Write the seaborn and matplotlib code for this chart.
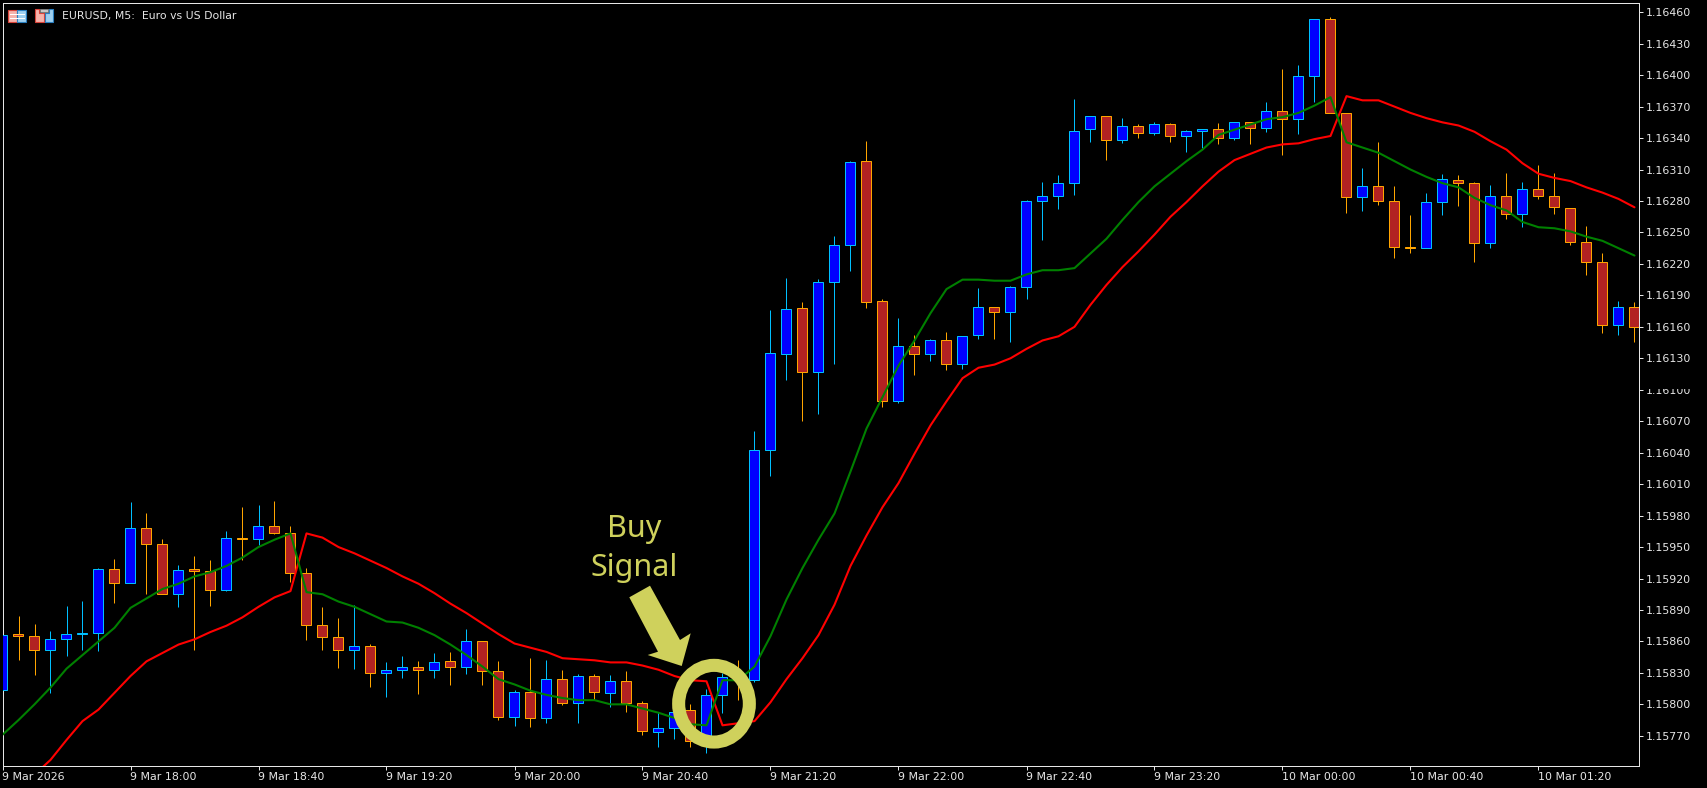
import numpy as np
import pandas as pd
import seaborn as sns
import matplotlib.pyplot as plt
from matplotlib.patches import Ellipse, Polygon, Rectangle
from matplotlib.transforms import Affine2D

# quotes are kept in points (1e-5), 5 minute bars
open_pts = [
    115814, 115867, 115865, 115852, 115862, 115867, 115868, 115929, 115916, 115968,
    115953, 115905, 115929, 115927, 115909, 115959, 115958, 115970, 115963, 115925,
    115876, 115864, 115852, 115856, 115830, 115833, 115836, 115833, 115841, 115836,
    115860, 115832, 115788, 115812, 115787, 115824, 115801, 115827, 115811, 115822,
    115801, 115774, 115777, 115795, 115767, 115809, 115826, 115823, 116043, 116134,
    116178, 116117, 116203, 116238, 116318, 116185, 116089, 116142, 116134, 116147,
    116125, 116152, 116179, 116174, 116198, 116280, 116285, 116297, 116349, 116361,
    116338, 116352, 116345, 116353, 116342, 116347, 116349, 116340, 116355, 116350,
    116366, 116358, 116399, 116454, 116364, 116284, 116294, 116280, 116236, 116235,
    116279, 116300, 116297, 116240, 116285, 116268, 116291, 116285, 116273, 116241,
    116222, 116162, 116179]
close_pts = [
    115866, 115865, 115852, 115862, 115867, 115868, 115929, 115916, 115968, 115953,
    115905, 115928, 115927, 115909, 115959, 115958, 115970, 115963, 115925, 115876,
    115864, 115852, 115856, 115830, 115833, 115836, 115833, 115840, 115836, 115860,
    115832, 115788, 115812, 115787, 115824, 115801, 115827, 115812, 115822, 115801,
    115775, 115777, 115793, 115765, 115809, 115826, 115823, 116043, 116135, 116177,
    116117, 116203, 116238, 116317, 116184, 116089, 116142, 116134, 116147, 116125,
    116151, 116179, 116174, 116198, 116280, 116285, 116297, 116347, 116361, 116338,
    116352, 116345, 116353, 116342, 116347, 116349, 116340, 116355, 116350, 116366,
    116358, 116399, 116454, 116364, 116284, 116294, 116280, 116236, 116235, 116279,
    116301, 116297, 116240, 116285, 116268, 116291, 116285, 116274, 116241, 116222,
    116162, 116179, 116160]
high_pts = [
    115866, 115884, 115877, 115870, 115894, 115899, 115930, 115939, 115993, 115982,
    115958, 115933, 115941, 115938, 115965, 115988, 115990, 115994, 115970, 115930,
    115893, 115882, 115895, 115858, 115840, 115846, 115841, 115849, 115850, 115872,
    115860, 115841, 115814, 115844, 115842, 115833, 115829, 115829, 115828, 115832,
    115803, 115793, 115793, 115800, 115815, 115830, 115842, 116061, 116176, 116207,
    116184, 116206, 116247, 116318, 116337, 116187, 116168, 116152, 116148, 116155,
    116151, 116197, 116179, 116199, 116281, 116298, 116305, 116377, 116361, 116361,
    116359, 116353, 116355, 116354, 116348, 116349, 116354, 116355, 116355, 116374,
    116406, 116410, 116454, 116455, 116364, 116311, 116336, 116294, 116267, 116288,
    116306, 116305, 116298, 116295, 116307, 116298, 116314, 116307, 116273, 116256,
    116230, 116185, 116184]
low_pts = [
    115814, 115842, 115828, 115811, 115846, 115852, 115851, 115897, 115916, 115905,
    115905, 115893, 115852, 115894, 115908, 115938, 115952, 115962, 115917, 115861,
    115852, 115835, 115834, 115817, 115807, 115825, 115810, 115825, 115818, 115829,
    115818, 115785, 115779, 115778, 115782, 115799, 115782, 115804, 115797, 115793,
    115771, 115759, 115767, 115759, 115754, 115792, 115804, 115821, 116018, 116109,
    116070, 116077, 116125, 116213, 116178, 116084, 116087, 116114, 116127, 116119,
    116120, 116148, 116148, 116146, 116187, 116243, 116272, 116286, 116336, 116319,
    116335, 116340, 116343, 116336, 116327, 116331, 116334, 116338, 116334, 116346,
    116324, 116344, 116374, 116364, 116269, 116270, 116276, 116226, 116230, 116235,
    116267, 116275, 116222, 116235, 116263, 116255, 116282, 116268, 116238, 116209,
    116154, 116152, 116146]
red_pts = [
    115701, 115717, 115733, 115747, 115766, 115784, 115795, 115811, 115827, 115841,
    115849, 115857, 115862, 115869, 115875, 115883, 115893, 115902, 115908, 115963,
    115959, 115950, 115944, 115937, 115930, 115922, 115915, 115906, 115896, 115887,
    115877, 115867, 115858, 115854, 115850, 115844, 115843, 115842, 115840, 115840,
    115837, 115833, 115827, 115823, 115822, 115780, 115782, 115784, 115802, 115824,
    115844, 115866, 115895, 115932, 115961, 115988, 116011, 116039, 116066, 116089,
    116111, 116121, 116124, 116130, 116139, 116147, 116151, 116160, 116181, 116200,
    116217, 116232, 116248, 116265, 116279, 116294, 116308, 116319, 116325, 116331,
    116334, 116335, 116339, 116342, 116380, 116376, 116376, 116370, 116364, 116359,
    116355, 116352, 116346, 116337, 116329, 116316, 116306, 116302, 116299, 116293,
    116288, 116282, 116274]
green_pts = [
    115771, 115785, 115800, 115816, 115834, 115847, 115860, 115873, 115892, 115901,
    115910, 115915, 115922, 115926, 115932, 115940, 115950, 115957, 115963, 115907,
    115905, 115898, 115893, 115886, 115879, 115878, 115873, 115866, 115857, 115847,
    115836, 115824, 115819, 115813, 115809, 115806, 115804, 115804, 115800, 115800,
    115796, 115792, 115787, 115781, 115780, 115823, 115823, 115836, 115865, 115900,
    115930, 115957, 115982, 116022, 116063, 116093, 116123, 116147, 116173, 116196,
    116205, 116205, 116204, 116204, 116210, 116214, 116214, 116216, 116230, 116244,
    116262, 116279, 116294, 116306, 116318, 116329, 116343, 116348, 116353, 116358,
    116360, 116364, 116371, 116379, 116336, 116331, 116326, 116318, 116310, 116303,
    116297, 116293, 116283, 116276, 116271, 116260, 116255, 116254, 116251, 116246,
    116242, 116235, 116228]

time_labels = ['9 Mar 2026', '9 Mar 18:00', '9 Mar 18:40', '9 Mar 19:20', '9 Mar 20:00',
               '9 Mar 20:40', '9 Mar 21:20', '9 Mar 22:00', '9 Mar 22:40', '9 Mar 23:20',
               '10 Mar 00:00', '10 Mar 00:40', '10 Mar 01:20']
price_ticks = [1.15770 + 0.0003 * k for k in range(24)]

W, H = 1708, 788
FG = '#e6e6e6'
ACCENT = '#cfd15c'

sns.set_style('dark', {'axes.facecolor': 'black', 'figure.facecolor': 'black'})
plt.rcParams['font.family'] = ['DejaVu Sans']

df = pd.DataFrame({'bar': np.arange(len(open_pts)),
                   'open': np.array(open_pts) / 1e5, 'close': np.array(close_pts) / 1e5,
                   'high': np.array(high_pts) / 1e5, 'low': np.array(low_pts) / 1e5,
                   'red': np.array(red_pts) / 1e5, 'green': np.array(green_pts) / 1e5})
up = df[df['close'] >= df['open']]
down = df[df['close'] < df['open']]

fig = plt.figure(figsize=(W / 100, H / 100), dpi=100)
ax = fig.add_axes([2.5 / W, 1 - 766 / H, 1637 / W, 763.5 / H])

# top left pixel coordinates, for the overlays that are not data
px = Affine2D().scale(1 / W, -1 / H).translate(0, 1) + fig.transFigure

# candles
for part, fill, edge in [(up, '#0000ff', '#00bfff'), (down, '#b22222', '#ffa500')]:
    ax.vlines(part['bar'], part['low'], part['high'], color=edge, lw=0.72, zorder=2)
    ax.bar(part['bar'], (part['close'] - part['open']).abs(),
           bottom=part[['open', 'close']].min(axis=1), width=0.625,
           color=fill, edgecolor=edge, linewidth=0.72, zorder=3)

# moving averages
sns.lineplot(data=df, x='bar', y='red', color='#ff0000', lw=1.5, ax=ax, zorder=4, legend=False)
sns.lineplot(data=df, x='bar', y='green', color='#008000', lw=1.5, ax=ax, zorder=5, legend=False)

ax.set_xlim(0, 102.3125)
ax.set_ylim(1.157412, 1.164693)
ax.set_xlabel('')
ax.set_ylabel('')
ax.grid(False)

ax.yaxis.tick_right()
ax.set_yticks(price_ticks)
ax.set_yticklabels([f'{p:.5f}' for p in price_ticks])
ax.set_xticks(np.arange(0, 97, 8))
ax.set_xticklabels(time_labels, ha='left')
ax.tick_params(axis='both', colors=FG, labelsize=7.9, length=3, width=0.72, pad=1.5,
               bottom=True, right=True, left=False)
for s in ax.spines.values():
    s.set_color(FG)
    s.set_linewidth(0.72)
    s.set_visible(True)

# the 1.16100 label is half hidden in the screenshot
fig.add_artist(Rectangle((1644.6, 378), 60, 11.2, transform=px, color='black', lw=0, zorder=10))

# title and the two toolbar icons
fig.text(62, 16.5, 'EURUSD, M5:  Euro vs US Dollar', transform=px, color=FG,
         fontsize=7.8, va='center', ha='left')
fig.add_artist(Rectangle((8.5, 9.5), 9, 12.5, transform=px, fc='#f6b3ab', ec='#d9443a', lw=0.8))
fig.add_artist(Rectangle((17.5, 9.5), 9, 12.5, transform=px, fc='#9fd0f0', ec='#2a7fc0', lw=0.8))
for y in [13.5, 17.5]:
    fig.add_artist(Rectangle((10, y), 15, 1, transform=px, fc='white', lw=0))
fig.add_artist(Polygon([(35.5, 9), (39, 9), (39, 13), (44, 13), (44, 22), (35.5, 22)], transform=px,
                       fc='#f6b3ab', ec='#d9443a', lw=0.8))
fig.add_artist(Polygon([(45.5, 13), (49, 13), (49, 9), (53.5, 9), (53.5, 22), (45.5, 22)], transform=px,
                       fc='#9fd0f0', ec='#2a7fc0', lw=0.8))
fig.add_artist(Rectangle((40, 8.5), 8, 3.5, transform=px, fc='#c8c8c8', ec='#808080', lw=0.6))

# buy signal annotation
fig.text(633.7, 536.7, 'Buy', transform=px, color=ACCENT, fontsize=22,
         family='Noto Sans', weight='medium', ha='center', va='baseline')
fig.text(633.7, 576, 'Signal', transform=px, color=ACCENT, fontsize=22,
         family='Noto Sans', weight='medium', ha='center', va='baseline')
fig.add_artist(Polygon([(629.3, 597.3), (650, 585.7), (680, 640), (690.7, 633.3), (681.7, 666),
                        (647.7, 655), (658, 651.7)], transform=px, fc=ACCENT, lw=0, zorder=8))
fig.add_artist(Ellipse((714, 703.7), 70.7, 76.7, transform=px, fc='none', ec=ACCENT, lw=9.4, zorder=8))

fig.savefig('out.png', dpi=100, facecolor='black')
